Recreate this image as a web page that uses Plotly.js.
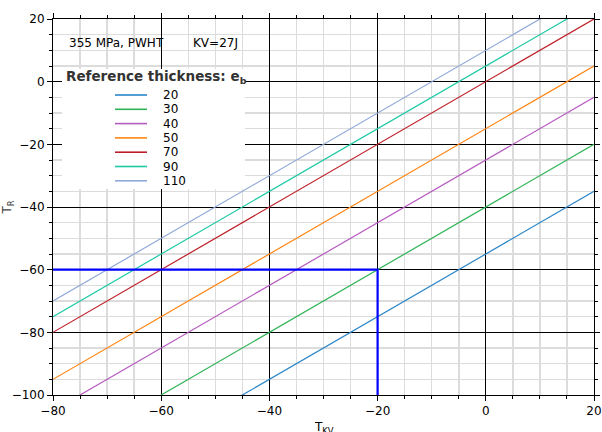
<!DOCTYPE html>
<html><head><meta charset="utf-8">
<script src="https://cdn.plot.ly/plotly-3.0.1.min.js"></script>
<style>body{margin:0;padding:0;background:#fff}#plot{width:602px;height:432px}</style>
</head><body><div id="plot"></div>
<script>
const thicknesses = ["20","30","40","50","70","90","110"];
const offsets = [-55,-40,-25,-15,0,5,10];
const colors = ["#2a86c8","#2fb356","#b65bc0","#ff8512","#bd1f28","#1fc9a6","#8fa9d9"];
const xRange = [-80, 20];
const yRange = [-100, 20];
const refX = [-80, -20, -20];
const refY = [-60, -60, -100];

const traces = thicknesses.map((t,i)=>({
  x: xRange, y: xRange.map(v=>v+offsets[i]),
  mode:'lines', name:t, line:{color:colors[i], width:1.2}, showlegend:false
}));
traces.push({x:refX, y:refY, mode:'lines', line:{color:'#0000ff', width:2.2}, showlegend:false});

// legend geometry (paper coords; plot area 541 x 376 px)
const W = 541, H = 376;
const px = p => (p-53)/W;
const py = p => (395-p)/H;
const shapes = [
  {type:'rect', xref:'paper', yref:'paper', x0:px(62), x1:px(245), y0:py(189), y1:py(69),
   fillcolor:'#fff', line:{width:0}, layer:'above'}
];
const annotations = [
  {xref:'paper', yref:'paper', x:0.025, y:0.935, xanchor:'left', yanchor:'middle', showarrow:false,
   text:'355 MPa, PWHT', font:{family:'DejaVu Sans', size:12, color:'#000'}},
  {xref:'paper', yref:'paper', x:0.255, y:0.935, xanchor:'left', yanchor:'middle', showarrow:false,
   text:'KV=27J', font:{family:'DejaVu Sans', size:12, color:'#000'}},
  {xref:'paper', yref:'paper', x:px(64), y:py(77), xanchor:'left', yanchor:'middle', showarrow:false,
   text:'<b>Reference thickness: e<sub>b</sub></b>', font:{family:'DejaVu Sans', size:13.5, color:'#333'}},
  {xref:'paper', yref:'paper', x:0.5, y:py(428), xanchor:'center', yanchor:'middle', showarrow:false,
   text:'T<sub>KV</sub>', font:{family:'DejaVu Sans', size:12, color:'#000'}}
];
thicknesses.forEach((t,i)=>{
  const yc = 95 + i*14.3;
  shapes.push({type:'line', xref:'paper', yref:'paper', x0:px(115), x1:px(147), y0:py(yc), y1:py(yc),
    line:{color:colors[i], width:1.6}, layer:'above'});
  annotations.push({xref:'paper', yref:'paper', x:px(161), y:py(yc), xanchor:'left', yanchor:'middle',
    showarrow:false, text:t, font:{family:'DejaVu Sans', size:12, color:'#000'}});
});

const axisCommon = {
  showline:true, linecolor:'#000', linewidth:1, mirror:'ticks',
  ticks:'outside', ticklen:5, tickcolor:'#000',
  gridcolor:'#000', gridwidth:1, zeroline:false,
  tickfont:{family:'DejaVu Sans', size:12, color:'#000'},
  minor:{dtick:5, showgrid:true, gridcolor:'#dcdcdc', gridwidth:1.5, ticks:'outside', ticklen:3, tickcolor:'#000'}
};
const layout = {
  width:602, height:432,
  margin:{l:53, r:8, t:19, b:37},
  paper_bgcolor:'#fff', plot_bgcolor:'#fff',
  showlegend:false,
  xaxis:Object.assign({}, axisCommon, {range:xRange, dtick:20}),
  yaxis:Object.assign({}, axisCommon, {range:yRange, dtick:20,
    title:{text:'T<sub>R</sub>', font:{family:'DejaVu Sans', size:12}, standoff:2}}),
  shapes:shapes,
  annotations:annotations
};
Plotly.newPlot('plot', traces, layout, {displayModeBar:false, staticPlot:true});
</script></body></html>
